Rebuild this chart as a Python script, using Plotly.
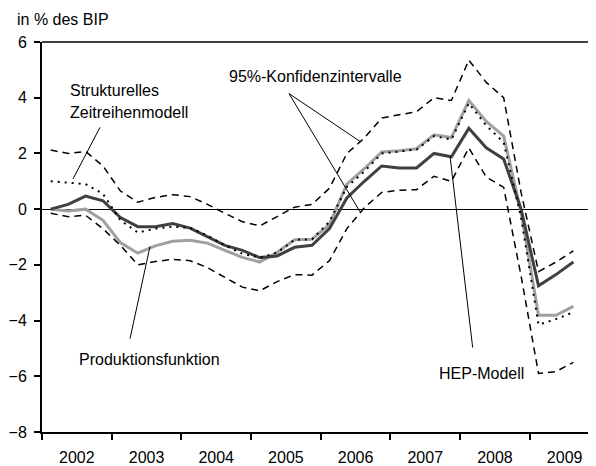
"""Output gap estimates 2002-2009 with 95% confidence bands."""

import pandas as pd
import plotly.graph_objects as go

# quarterly observations, 2002Q1 .. 2009Q3
quarters = [str(p) for p in pd.period_range("2002Q1", "2009Q3", freq="Q")]
years = ["2002", "2003", "2004", "2005", "2006", "2007", "2008", "2009"]

hep_modell = [
    0.0, 0.17, 0.47, 0.3, -0.3, -0.63, -0.63, -0.52, -0.68, -1.0,
    -1.3, -1.48, -1.74, -1.68, -1.37, -1.3, -0.7, 0.4, 1.0, 1.55,
    1.48, 1.48, 2.0, 1.88, 2.9, 2.2, 1.8, 0.0, -2.75, -2.35, -1.9,
]
produktionsfunktion = [
    0.0, -0.07, 0.0, -0.4, -1.2, -1.58, -1.32, -1.15, -1.12, -1.22,
    -1.48, -1.73, -1.9, -1.55, -1.1, -1.08, -0.55, 0.9, 1.45, 2.05,
    2.1, 2.17, 2.67, 2.57, 3.9, 3.15, 2.62, -0.1, -3.81, -3.81, -3.49,
]
zeitreihenmodell = [
    1.0, 0.94, 0.9, 0.55, -0.4, -0.84, -0.7, -0.63, -0.67, -0.95,
    -1.3, -1.6, -1.74, -1.56, -1.1, -1.08, -0.45, 0.8, 1.35, 2.0,
    2.08, 2.14, 2.62, 2.5, 3.8, 3.0, 2.4, -0.3, -4.15, -3.95, -3.7,
]
ki_oben = [
    2.12, 2.0, 2.07, 1.55, 0.65, 0.25, 0.42, 0.52, 0.45, 0.17,
    -0.15, -0.45, -0.6, -0.28, 0.07, 0.17, 0.75, 2.0, 2.55, 3.27,
    3.38, 3.5, 4.0, 3.9, 5.35, 4.55, 4.0, 0.6, -2.24, -1.9, -1.5,
]
ki_unten = [
    -0.15, -0.27, -0.22, -0.7, -1.3, -2.0, -1.88, -1.8, -1.85, -2.1,
    -2.45, -2.8, -2.93, -2.6, -2.35, -2.37, -1.85, -0.7, 0.05, 0.6,
    0.68, 0.7, 1.18, 1.0, 2.2, 1.15, 0.78, -2.4, -5.9, -5.83, -5.5,
]

# the page body has an 8px margin, so the figure is made that much smaller
PAGE_OFFSET = 8
W, H = 596 - PAGE_OFFSET, 466 - PAGE_OFFSET
MARGIN = dict(l=42 - PAGE_OFFSET, r=0, t=42 - PAGE_OFFSET, b=31)
X_RANGE = [-0.5, 31.3]
Y_RANGE = [-8, 6]
FONT = "Liberation Sans, Arial, sans-serif"
PLOT_W = W - MARGIN["l"] - MARGIN["r"]
PLOT_H = H - MARGIN["t"] - MARGIN["b"]


def px(x_pix, y_pix):
    """Pixel position in the browser window -> data coordinates."""
    fx = x_pix - PAGE_OFFSET - MARGIN["l"]
    fy = y_pix - PAGE_OFFSET - MARGIN["t"]
    x = X_RANGE[0] + fx / PLOT_W * (X_RANGE[1] - X_RANGE[0])
    y = Y_RANGE[1] - fy / PLOT_H * (Y_RANGE[1] - Y_RANGE[0])
    return x, y


def paper(x_pix, y_pix):
    """Pixel position in the browser window -> paper coordinates."""
    fx = x_pix - PAGE_OFFSET - MARGIN["l"]
    fy = y_pix - PAGE_OFFSET - MARGIN["t"]
    return fx / PLOT_W, 1 - fy / PLOT_H


x = list(range(len(quarters)))

fig = go.Figure()
fig.add_trace(go.Scatter(x=x, y=produktionsfunktion, mode="lines",
                         line=dict(color="#a0a0a0", width=3)))
fig.add_trace(go.Scatter(x=x, y=hep_modell, mode="lines",
                         line=dict(color="#404040", width=3)))
for band in (ki_oben, ki_unten):
    fig.add_trace(go.Scatter(x=x, y=band, mode="lines",
                             line=dict(color="black", width=1.5, dash="7px,5px")))
fig.add_trace(go.Scatter(x=x, y=zeitreihenmodell, mode="lines",
                         line=dict(color="black", width=2, dash="2px,5px")))

# text labels and their pointer lines (pixel positions)
labels = [
    ("Strukturelles", 68, 91, "left"),
    ("Zeitreihenmodell", 68, 113, "left"),
    ("95%-Konfidenzintervalle", 315, 77, "center"),
    ("Produktionsfunktion", 149, 362, "center"),
    ("HEP-Modell", 481, 376, "center"),
]
for text, lx, ly, anchor in labels:
    ax_, ay_ = px(lx, ly)
    fig.add_annotation(x=ax_, y=ay_, text=text, showarrow=False,
                       xanchor=anchor, yanchor="middle",
                       font=dict(size=16, color="black"))

pointers = [
    ((100, 128), (73, 180)),
    ((289, 94), (360.5, 142.5)),
    ((289, 94), (360, 213)),
    ((130, 341), (150, 248)),
    ((450, 157), (472.7, 350)),
]
for (x0p, y0p), (x1p, y1p) in pointers:
    x0, y0 = px(x0p, y0p)
    x1, y1 = px(x1p, y1p)
    fig.add_shape(type="line", x0=x0, y0=y0, x1=x1, y1=y1,
                  line=dict(color="black", width=1))

# top frame line
fig.add_shape(type="line", xref="paper", yref="paper", x0=0, x1=1, y0=1, y1=1,
              line=dict(color="#404040", width=2))

tx, ty = paper(15, 19)
fig.add_annotation(xref="paper", yref="paper", x=tx, y=ty,
                   text="in % des BIP", showarrow=False,
                   xanchor="left", yanchor="middle",
                   font=dict(size=16, color="black"))

fig.update_layout(
    width=W,
    height=H,
    margin=MARGIN,
    paper_bgcolor="white",
    plot_bgcolor="white",
    showlegend=False,
    font=dict(family=FONT, size=16, color="black"),
    xaxis=dict(
        range=X_RANGE,
        tickvals=[1.5 + 4 * k for k in range(len(years))],
        ticktext=years,
        ticks="",
        ticklabelstandoff=10,
        showgrid=False,
        zeroline=False,
        showline=True,
        linecolor="black",
        linewidth=2,
        minor=dict(ticks="outside", tick0=-0.5, dtick=4, ticklen=6,
                   tickwidth=1.5, tickcolor="black", showgrid=False),
    ),
    yaxis=dict(
        range=Y_RANGE,
        dtick=2,
        ticks="outside",
        ticklen=6,
        tickwidth=1.5,
        tickcolor="black",
        ticklabelstandoff=4,
        showgrid=False,
        showline=True,
        linecolor="black",
        linewidth=2,
        zeroline=True,
        zerolinecolor="black",
        zerolinewidth=1,
    ),
)

fig.write_html("out.html")
